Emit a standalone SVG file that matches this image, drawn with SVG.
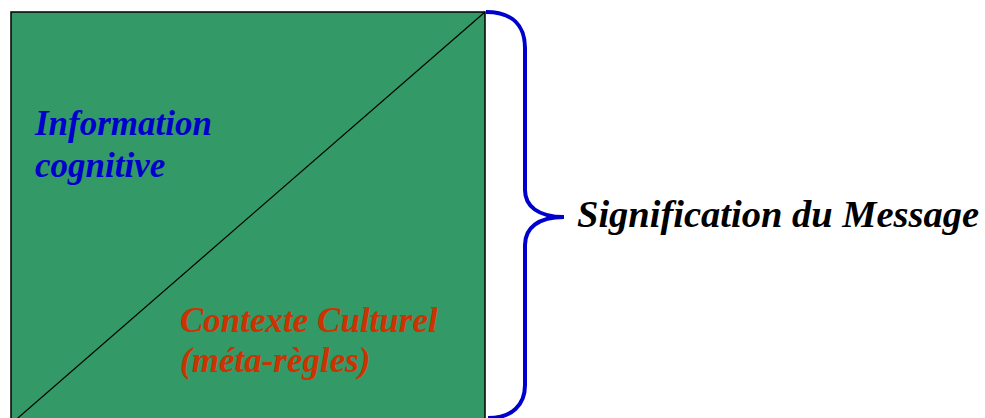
<svg xmlns="http://www.w3.org/2000/svg" width="985" height="418" viewBox="0 0 985 418">
<style>
.t{font-family:"Liberation Serif","Times New Roman",serif;font-weight:bold;font-style:italic;font-size:35px}
</style>
<rect width="985" height="418" fill="#fff"/>
<g id="box">
<rect x="11" y="12" width="474" height="420" fill="#339966" stroke="#000" stroke-width="1.5"/>
<line x1="485" y1="12" x2="11" y2="424" stroke="#000" stroke-width="1.2"/>
</g>
<g id="info"><text class="t" x="35" y="135" fill="#0000CC">Information</text><text class="t" x="35" y="177" fill="#0000CC">cognitive</text></g>
<g id="ctx"><text class="t" x="180" y="332" fill="#CC3300">Contexte Culturel</text><text class="t" x="180" y="372" fill="#CC3300">(méta-règles)</text></g>
<g id="brace"><path d="M486,12 C512,12 525,25 525,48 L525,190 C525,206 538,217 564,217 C538,217 525,228 525,245 L525,385 C525,405 512,418 488,418" fill="none" stroke="#0000CC" stroke-width="4"/></g>
<g id="sig"><text class="t" x="577" y="227" fill="#000" style="font-size:38.5px">Signification du Message</text></g>
</svg>
